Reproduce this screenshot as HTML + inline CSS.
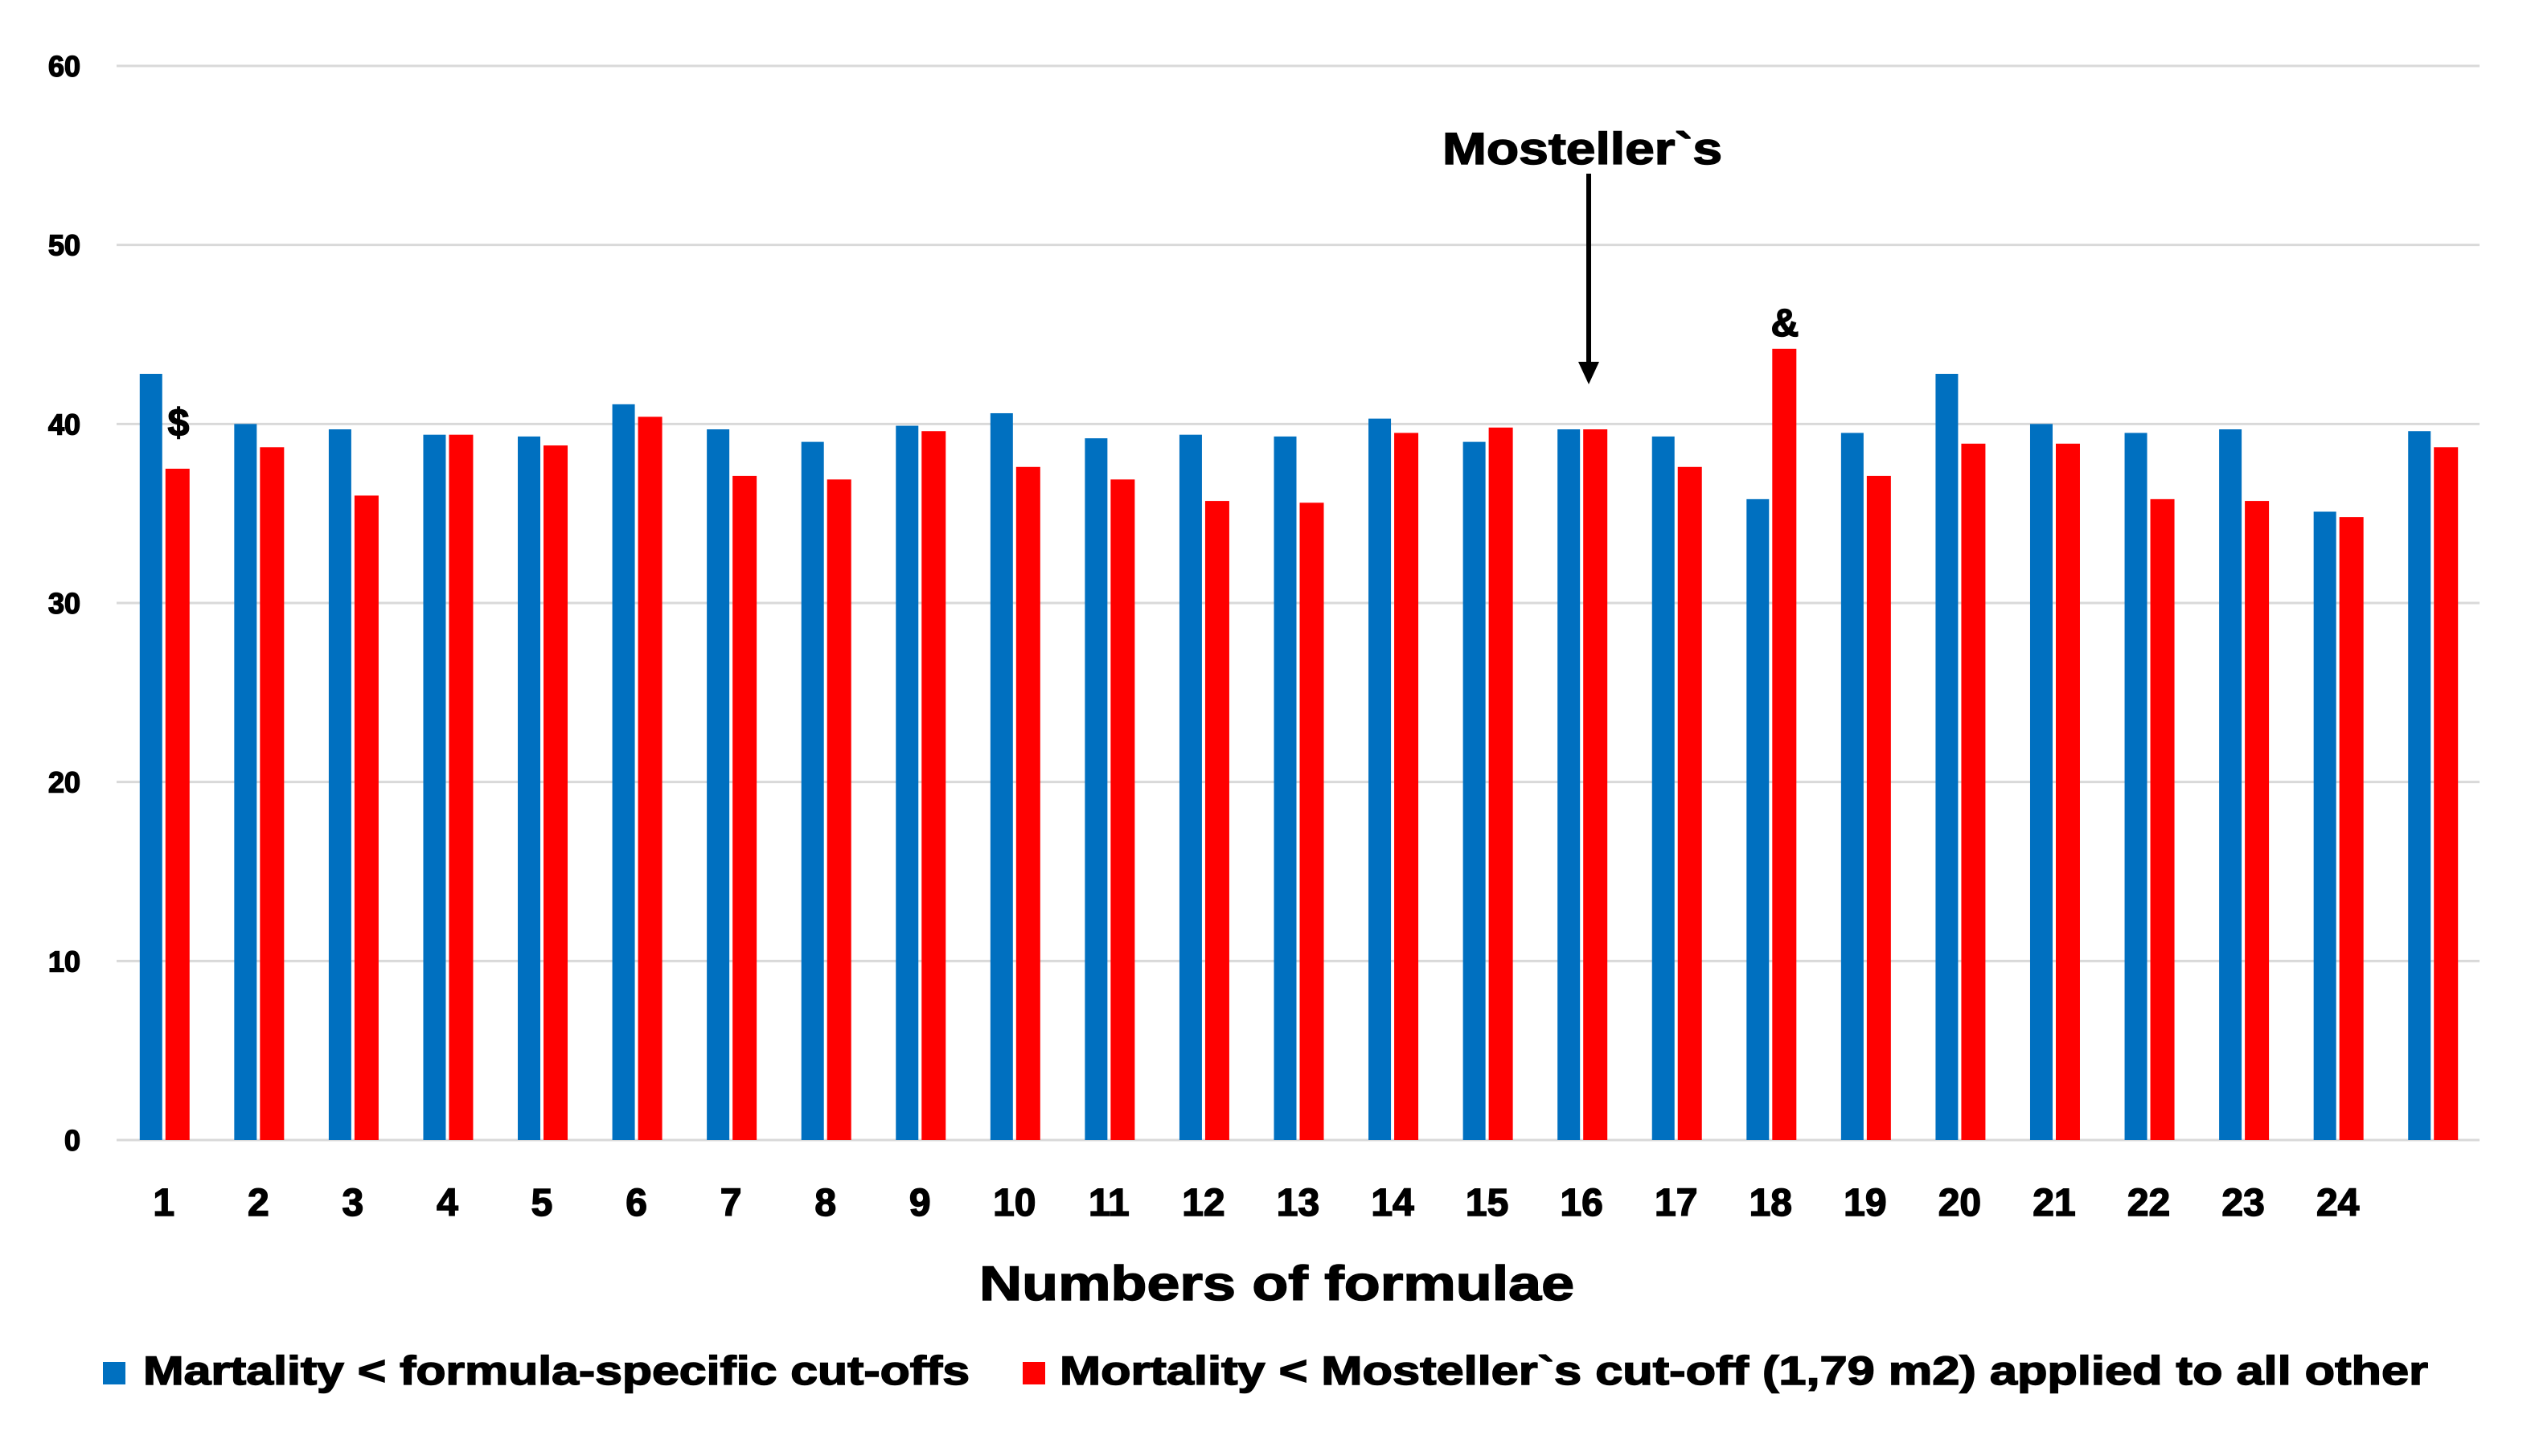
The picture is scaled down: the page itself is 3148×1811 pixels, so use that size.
<!DOCTYPE html>
<html><head><meta charset="utf-8"><style>
html,body{margin:0;padding:0;background:#fff;}
svg{display:block;font-family:"Liberation Sans",Arial,sans-serif;font-weight:bold;}
text{stroke:#000;stroke-width:1.5;}
</style></head><body>
<svg id="chart" width="3148" height="1811" viewBox="0 0 3148 1811" xmlns="http://www.w3.org/2000/svg">
<g id="grid"></g>
<g id="yticks"></g>
<g id="bars"></g>
<g id="xticks"></g>
<text x="1588" y="1617" font-size="60" text-anchor="middle" textLength="740" lengthAdjust="spacingAndGlyphs">Numbers of formulae</text>
<text x="1968" y="204" font-size="56" text-anchor="middle" textLength="348" lengthAdjust="spacingAndGlyphs">Mosteller`s</text>
<line x1="1976" y1="216" x2="1976" y2="452" stroke="#000" stroke-width="6"/>
<polygon points="1963,450 1989,450 1976,478" fill="#000"/>
<text x="222" y="542" font-size="48" text-anchor="middle">$</text>
<text x="2220" y="418" font-size="48" text-anchor="middle">&amp;</text>
<g>
<rect x="128" y="1694" width="28" height="28" fill="#0070C0"/>
<text x="178" y="1722" font-size="50" textLength="1028" lengthAdjust="spacingAndGlyphs">Martality &lt; formula-specific cut-offs</text>
<rect x="1272" y="1694" width="28" height="28" fill="#FF0000"/>
<text x="1318" y="1722" font-size="50" textLength="1702" lengthAdjust="spacingAndGlyphs">Mortality &lt; Mosteller`s cut-off (1,79 m2) applied to all other</text>
</g>
</svg>
<script>
const categories = ["1","2","3","4","5","6","7","8","9","10","11","12","13","14","15","16","17","18","19","20","21","22","23","24",""];
const blueValues = [42.8,40.0,39.7,39.4,39.3,41.1,39.7,39.0,39.9,40.6,39.2,39.4,39.3,40.3,39.0,39.7,39.3,35.8,39.5,42.8,40.0,39.5,39.7,35.1,39.6];
const redValues = [37.5,38.7,36.0,39.4,38.8,40.4,37.1,36.9,39.6,37.6,36.9,35.7,35.6,39.5,39.8,39.7,37.6,44.2,37.1,38.9,38.9,35.8,35.7,34.8,38.7];
const yTicks = [0,10,20,30,40,50,60];
const NS = "http://www.w3.org/2000/svg";
const plotL = 145, plotR = 3084, y0 = 1418, yTop = 82;
function yScale(v){ return y0 - (v/60)*(y0-yTop); }
function xCenter(i){ return plotL + (plotR-plotL)/categories.length*(i+0.5); }
function mk(tag, attrs, parent){ const e=document.createElementNS(NS,tag); for(const k in attrs) e.setAttribute(k,attrs[k]); parent.appendChild(e); return e; }
const grid=document.getElementById('grid'), yt=document.getElementById('yticks'), bars=document.getElementById('bars'), xt=document.getElementById('xticks');
yTicks.forEach(t=>{
  const y=yScale(t);
  const l=mk('line',{x1:plotL,x2:plotR,y1:y,y2:y,stroke:'#d9d9d9','stroke-width':3},grid);
  
  
  const tx=mk('text',{x:100,y:y+13,'font-size':36,'text-anchor':'end'},yt);
  tx.textContent=t;
  
  
});
categories.forEach((c,i)=>{
  const cx=xCenter(i);
  const b=mk('rect',{x:cx-30,y:yScale(blueValues[i]),width:28,height:y0-yScale(blueValues[i]),fill:'#0070C0'},bars);
  
  
  const r=mk('rect',{x:cx+2,y:yScale(redValues[i]),width:30,height:y0-yScale(redValues[i]),fill:'#FF0000'},bars);
  
  
  if(c){
    const tx=mk('text',{x:cx,y:1512,'font-size':48,'text-anchor':'middle'},xt);
    tx.textContent=c;
    
    
  }
});
</script>
</body></html>
